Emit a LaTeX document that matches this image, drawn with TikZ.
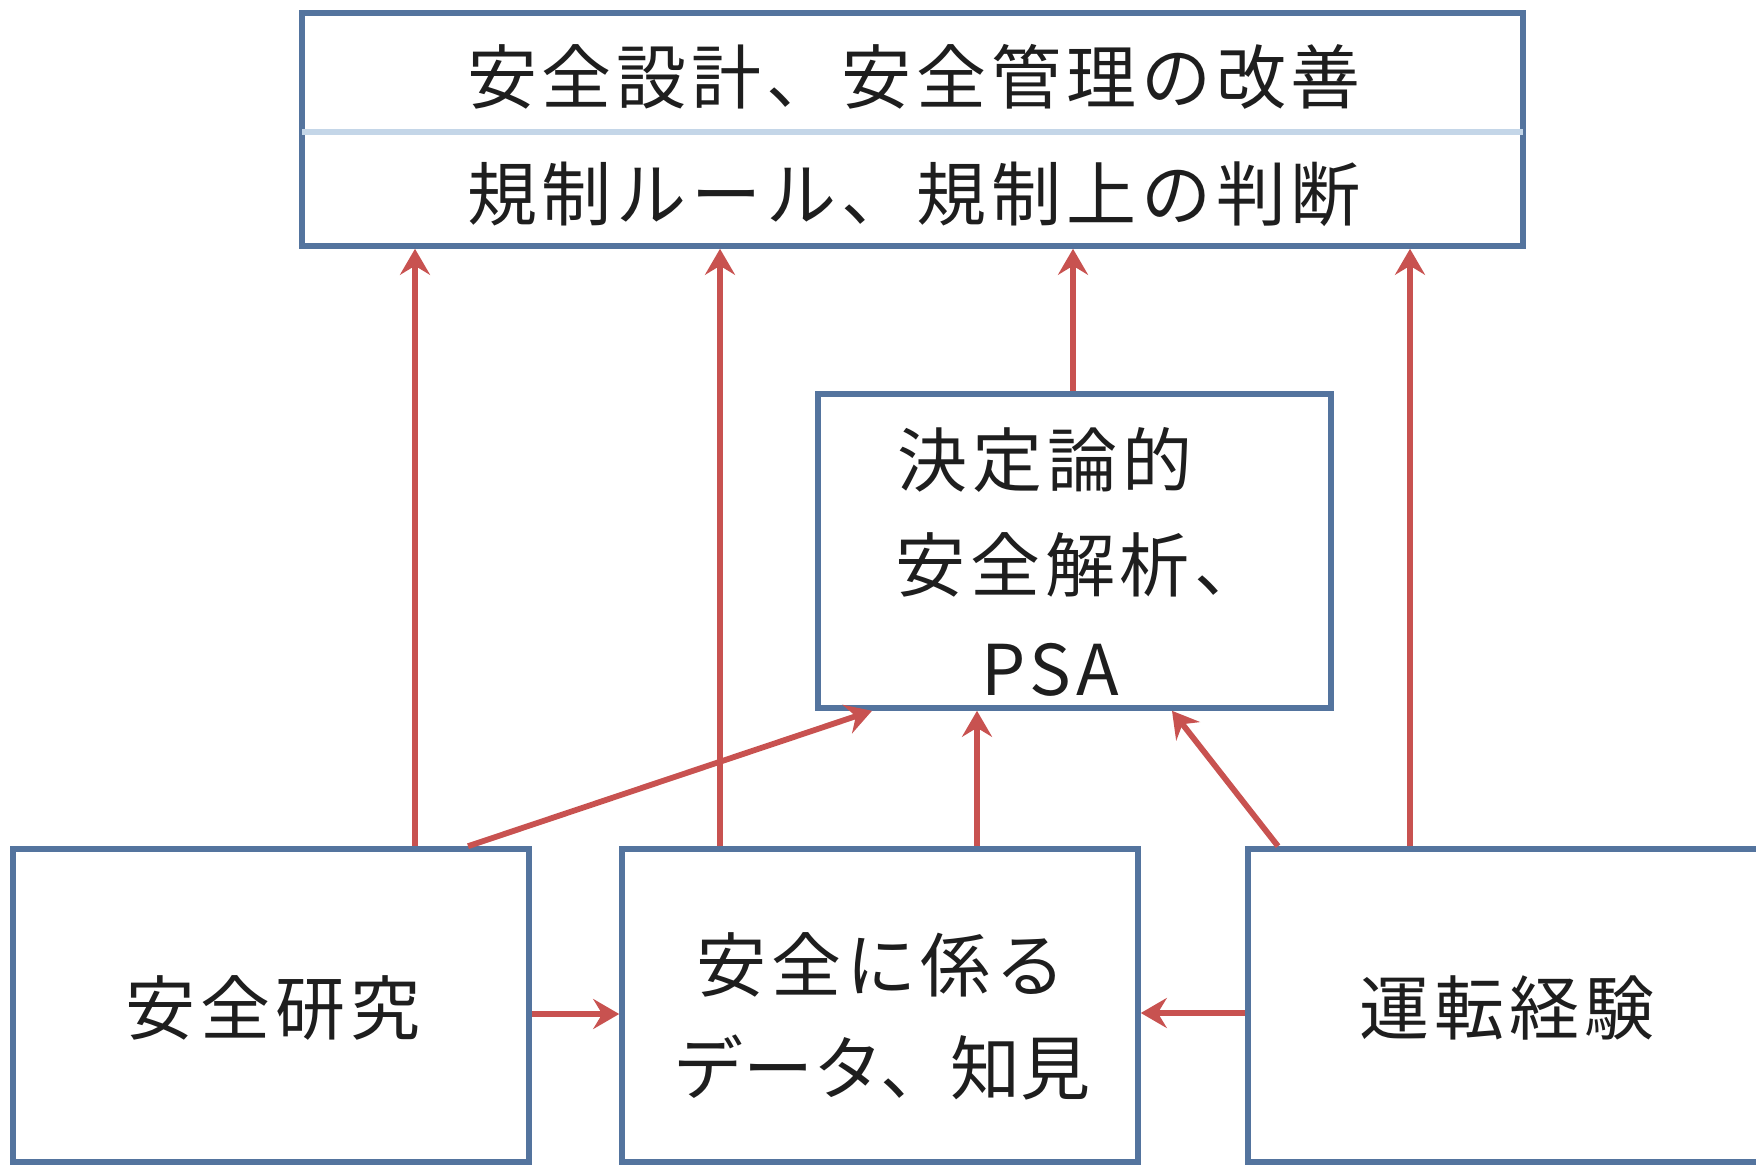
\documentclass[tikz,border=0pt]{standalone}
\usepackage{fontspec}
\newfontfamily\jp[LetterSpace=7]{Noto Sans CJK JP}
\newfontfamily\jpn{Noto Sans CJK JP}
\usetikzlibrary{arrows.meta}
\definecolor{boxblue}{RGB}{84,116,158}
\definecolor{divblue}{RGB}{196,214,232}
\definecolor{arrred}{RGB}{200,82,80}
\definecolor{txt}{RGB}{30,30,30}
\tikzset{
  box/.style={draw=boxblue, line width=2.8pt, fill=white, rectangle, inner sep=0pt},
  lbl/.style={text=txt, inner sep=0pt, font=\jp\fontsize{35}{50}\selectfont},
  arr/.style={draw=arrred, line width=2.9pt, -{Stealth[length=13pt,width=15pt,inset=4.5pt]}},
  divider/.style={draw=divblue, line width=3pt}
}
\begin{document}
\begin{tikzpicture}[x=0.5pt,y=-0.5pt]
\useasboundingbox (0,0) rectangle (1756,1165);
% boxes
\node[box, minimum width=610.5pt, minimum height=116.5pt] (top) at (912.5,129.5) {};
\node[box, minimum width=256.5pt, minimum height=157pt] (mid) at (1074.5,551) {};
\node[box, minimum width=258pt, minimum height=156.5pt] (lb) at (271,1005.5) {};
\node[box, minimum width=258pt, minimum height=156.5pt] (mb) at (880,1005.5) {};
\node[box, minimum width=257pt, minimum height=156.5pt] (rb) at (1505,1005.5) {};
% divider in top box
\coordinate (dv) at (0,132);
\draw[divider] ([xshift=1.5pt]top.west |- dv) -- ([xshift=-1.5pt]top.east |- dv);
% texts
\node[lbl] (t1) at (914,77) {安全設計、安全管理の改善};
\node[lbl] (t2) at (914,194) {規制ルール、規制上の判断};
\node[lbl] (m1) at (1045,460) {決定論的};
\node[lbl] (m2) at (1080,565) {安全解析、};
\node[lbl] (m3) at (1050,670) {PSA};
\node[lbl] (l1) at (273,1008) {安全研究};
\node[lbl] (c1) at (881,965) {安全に係る};
\node[lbl, font=\jpn\fontsize{35}{50}\selectfont] (c2) at (882,1068) {データ、知見};
\node[lbl] (r1) at (1507,1008) {運転経験};
% arrows
\draw[arr] (lb.north -| 415,0) -- (top.south -| 415,0);
\draw[arr] (mb.north -| 720,0) -- (top.south -| 720,0);
\draw[arr] (mid.north -| 1073,0) -- (top.south -| 1073,0);
\draw[arr] (rb.north -| 1410,0) -- (top.south -| 1410,0);
\draw[arr] (mb.north -| 977,0) -- (mid.south -| 977,0);
\draw[arr] (lb.north -| 468,0) -- (mid.south -| 872,0);
\draw[arr] (rb.north -| 1278,0) -- (mid.south -| 1172,0);
\draw[arr] (lb.east |- 0,1014) -- (mb.west |- 0,1014);
\draw[arr] (rb.west |- 0,1013) -- (mb.east |- 0,1013);
\end{tikzpicture}
\end{document}
